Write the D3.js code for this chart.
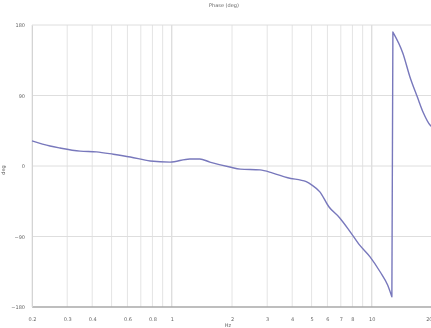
<!DOCTYPE html>
<html>
<head>
<meta charset="utf-8">
<script src="https://cdn.jsdelivr.net/npm/d3@7"></script>
<style>
  html, body { margin: 0; padding: 0; background: #fff; }
  svg { display: block; }
  text { font-family: "DejaVu Sans", sans-serif; fill: #666; }
</style>
</head>
<body>
<svg id="chart" width="431" height="328"></svg>
<script>
// Phase response, degrees, against frequency on a log axis
const freq = [0.2, 0.246, 0.276, 0.348, 0.42, 0.51, 0.62, 0.78, 0.98, 1.23, 1.38, 1.55,
  1.95, 2.2, 2.76, 3.2, 3.8, 4.7, 5.0, 5.5, 6.1, 6.9, 7.8, 8.7, 9.8, 11, 12, 12.6,
  12.75, 14.3, 15.5, 16.9, 18.1, 19.6, 20];
const phase = [32, 25.5, 23, 19, 18, 15, 11.5, 6.4, 5, 9, 9, 5,
  -1.3, -4, -5, -9, -15, -20, -24, -33, -52, -66, -84, -101, -116, -135, -152, -167,
  171, 144, 114, 88, 68, 52, 50];

const xTickValues = [0.2, 0.3, 0.4, 0.6, 0.8, 1, 2, 3, 4, 5, 6, 7, 8, 10, 20];
const xTickLabels = ["0.2", "0.3", "0.4", "0.6", "0.8", "1", "2", "3", "4", "5", "6", "7", "8", "10", "20"];
const yTickValues = [180, 90, 0, -90, -180];
const titleText = "Phase (deg)";
const xLabelText = "Hz";
const yLabelText = "deg";

const svg = d3.select("#chart");
const margin = { left: 32, right: 0, top: 25, bottom: 21 };
const W = 431, H = 328;

const x = d3.scaleLog().domain([0.2, 20]).range([margin.left, 432]);
const y = d3.scaleLinear().domain([-180, 180]).range([H - margin.bottom, margin.top]);

// soft focus for the whole drawing
const defs = svg.append("defs");
defs.append("filter").attr("id", "soft")
  .append("feGaussianBlur").attr("stdDeviation", 0.55);

const g = svg.append("g").attr("filter", "url(#soft)");

// vertical grid at every log step
const minor = [];
[0.1, 1, 10].forEach(d => { for (let k = 1; k <= 9; k++) { const v = +(d * k).toPrecision(3); if (v >= 0.2 && v <= 20) minor.push(v); } });
g.append("g").selectAll("line").data(minor).join("line")
  .attr("x1", d => x(d)).attr("x2", d => x(d))
  .attr("y1", y(180)).attr("y2", y(-180))
  .attr("stroke", d => (Math.abs(Math.log10(d) - Math.round(Math.log10(d))) < 1e-6) ? "#d2d2d2" : "#e4e4e4")
  .attr("stroke-width", 1);

// horizontal grid
g.append("g").selectAll("line").data(yTickValues).join("line")
  .attr("x1", margin.left).attr("x2", W)
  .attr("y1", d => y(d)).attr("y2", d => y(d))
  .attr("stroke", d => (d === -180 ? "#a8a8a8" : "#dedede"))
  .attr("stroke-width", d => (d === -180 ? 1.3 : 1));

// axes
const xAxis = d3.axisBottom(x).tickValues(xTickValues)
  .tickFormat((d, i) => xTickLabels[i]).tickSize(0).tickPadding(10);
const xg = g.append("g").attr("transform", `translate(0,${y(-180)})`).call(xAxis);
xg.select(".domain").remove();
xg.selectAll("text").attr("font-size", 5).attr("fill", "#777")
  .attr("text-anchor", d => (d === 20 ? "end" : "middle"));

const yAxis = d3.axisLeft(y).tickValues(yTickValues).tickSize(0).tickPadding(7);
const yg = g.append("g").attr("transform", `translate(${margin.left},0)`).call(yAxis);
yg.select(".domain").attr("stroke", "#d4d4d4");
yg.selectAll("text").attr("font-size", 5).attr("fill", "#777");

// phase curve, drawn as two smooth runs joined by the vertical wrap
const pts = phase.map((v, i) => [x(freq[i]), y(v)]);
let wrap = 1;
while (wrap < phase.length && Math.abs(phase[wrap] - phase[wrap - 1]) < 180) wrap++;
const smooth = d3.line().curve(d3.curveMonotoneX);
const pathD = smooth(pts.slice(0, wrap)) + "L" + pts[wrap].join(",") +
  smooth(pts.slice(wrap)).replace(/^M/, "L");
g.append("path")
  .attr("d", pathD)
  .attr("fill", "none")
  .attr("stroke", "#7878bc")
  .attr("stroke-width", 1.4)
  .attr("stroke-linejoin", "round");

// titles
g.append("text").attr("x", 224).attr("y", 7).attr("text-anchor", "middle")
  .attr("font-size", 5).attr("fill", "#888").text(titleText);
g.append("text").attr("x", 228).attr("y", 327).attr("text-anchor", "middle")
  .attr("font-size", 5).attr("fill", "#888").text(xLabelText);
g.append("text").attr("transform", "translate(5,170) rotate(-90)").attr("text-anchor", "middle")
  .attr("font-size", 5).attr("fill", "#888").text(yLabelText);
</script>
</body>
</html>
